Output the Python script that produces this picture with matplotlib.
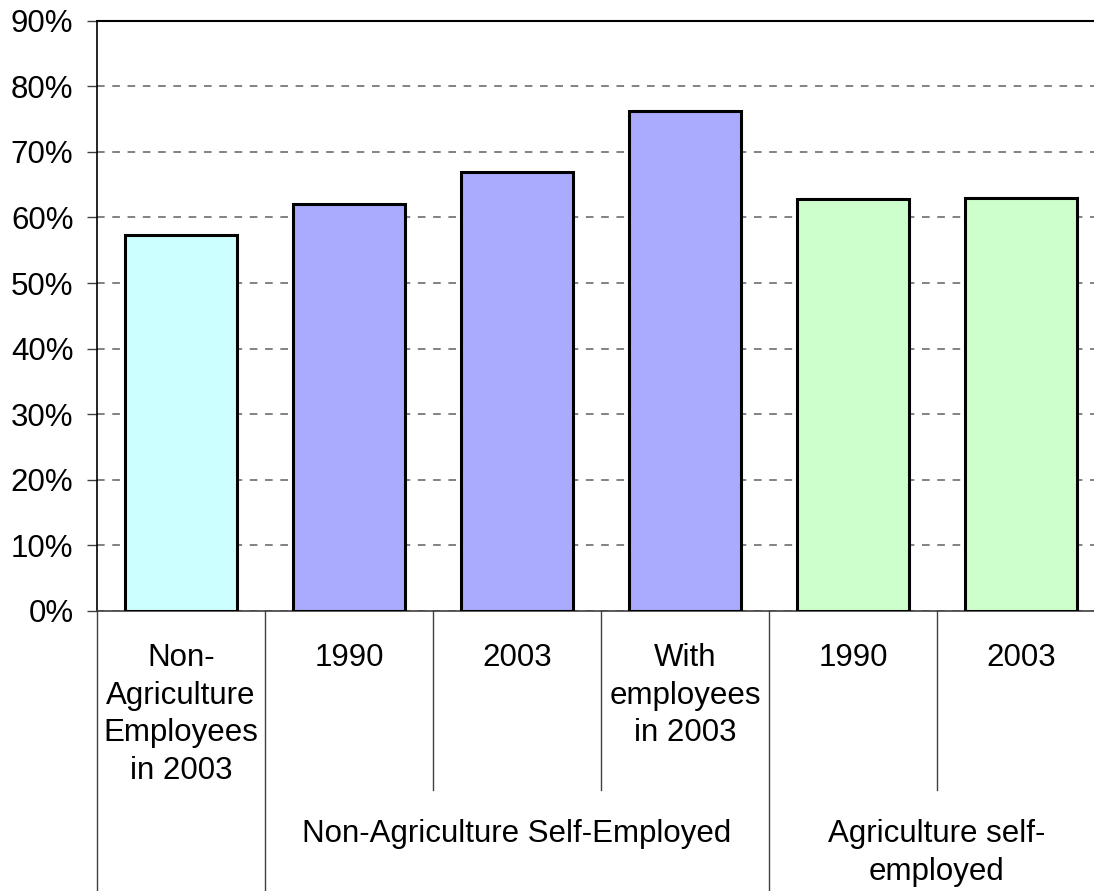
import matplotlib
matplotlib.use("Agg")
import matplotlib.pyplot as plt
from matplotlib.transforms import blended_transform_factory
from matplotlib.ticker import FuncFormatter, MultipleLocator

plt.rcParams["font.family"] = ["Liberation Sans", "DejaVu Sans"]

# Share of workers, by category
categories = ["Non-\nAgriculture\nEmployees\nin 2003", "1990", "2003",
              "With\nemployees\nin 2003", "1990", "2003"]
values = [57.3, 62.0, 67.0, 76.2, 62.8, 62.9]
colors = ["#CCFFFF", "#AAAAFF", "#AAAAFF", "#AAAAFF", "#CCFFCC", "#CCFFCC"]
groups = ["Non-Agriculture Self-Employed", "Agriculture self-\nemployed"]
group_centers = [2.0, 4.5]

W, H = 1094, 891
fig = plt.figure(figsize=(W / 100, H / 100), dpi=100)

# plot area in pixels: left 97, top 20.7, bottom 611, 168 px per category
left_px, top_px, bot_px, cat_px = 97, 20.7, 611, 168
ax = fig.add_axes([left_px / W, 1 - bot_px / H,
                   6 * cat_px / W, (bot_px - top_px) / H])

x = list(range(len(values)))
ax.bar(x, values, width=0.67, color=colors, edgecolor="black",
       linewidth=2.2, zorder=3)

ax.set_xlim(-0.5, 5.5)
ax.set_ylim(0, 90)
ax.yaxis.set_major_locator(MultipleLocator(10))
ax.yaxis.set_major_formatter(FuncFormatter(lambda v, p: f"{v:.0f}%"))
ax.tick_params(axis="y", direction="out", length=7, width=1, color="#404040",
               labelsize=22.5, pad=10)
ax.tick_params(axis="x", length=0, labelbottom=False)

ax.grid(axis="y", linestyle=(0, (5, 5)), color="#606060", linewidth=1.1, zorder=0)
ax.set_axisbelow(True)

ax.spines["right"].set_visible(False)
ax.spines["top"].set_linewidth(1.5)
ax.spines["left"].set_linewidth(1.2)
ax.spines["bottom"].set_color("#404040")
ax.spines["bottom"].set_linewidth(1.2)

# category separators below the axis
tr = blended_transform_factory(ax.transData, fig.transFigure)
y0 = 1 - bot_px / H
y_short = 1 - 790 / H
for sx, full in [(-0.5, True), (0.5, True), (1.5, False), (2.5, False),
                 (3.5, True), (4.5, False)]:
    ax.plot([sx, sx], [y0, 0 if full else y_short], transform=tr,
            color="#404040", linewidth=1, clip_on=False)

for xi, lab in zip(x, categories):
    ax.text(xi, 1 - 643 / H, lab, transform=tr, ha="center", va="top",
            fontsize=22.5, linespacing=1.33)

for gx, lab in zip(group_centers, groups):
    ax.text(gx, 1 - 819 / H, lab, transform=tr, ha="center", va="top",
            fontsize=22.5, linespacing=1.33)

fig.savefig("out.png", dpi=100)
